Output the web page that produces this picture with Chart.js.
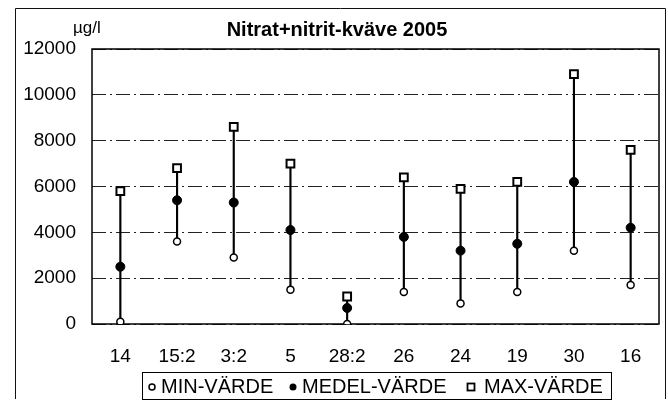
<!DOCTYPE html>
<html>
<head>
<meta charset="utf-8">
<script src="https://cdn.jsdelivr.net/npm/chart.js@4"></script>
<style>
  html, body { margin: 0; padding: 0; background: #fff; }
  #wrap { position: relative; width: 668px; height: 401px; }
</style>
</head>
<body>
<div id="wrap"><canvas id="chart" width="668" height="401"></canvas></div>
<script>
const stations = ["14", "15:2", "3:2", "5", "28:2", "26", "24", "19", "30", "16"]
const minValues = [100, 3600, 2900, 1500, 0, 1400, 900, 1400, 3200, 1700]
const meanValues = [2500, 5400, 5300, 4100, 700, 3800, 3200, 3500, 6200, 4200]
const maxValues = [5800, 6800, 8600, 7000, 1200, 6400, 5900, 6200, 10900, 7600]
const yTicks = [0, 2000, 4000, 6000, 8000, 10000, 12000]
const legendLabels = ["MIN-VÄRDE", "MEDEL-VÄRDE", "MAX-VÄRDE"]

const FONT = "'Liberation Sans', Arial, sans-serif"

// frame, title, unit and the boxed legend
const decorations = {
  id: "decorations",
  beforeDatasetsDraw(chart) {
    const { ctx, chartArea: a } = chart
    ctx.save()
    ctx.strokeStyle = "#000"
    ctx.lineWidth = 1.5
    ctx.strokeRect(a.left, a.top, a.right - a.left, a.bottom - a.top)
    ctx.restore()
  },
  afterDraw(chart) {
    const { ctx } = chart
    ctx.save()
    // outer frame
    ctx.strokeStyle = "#111"
    ctx.lineWidth = 1
    ctx.beginPath()
    ctx.moveTo(15.5, 399)
    ctx.lineTo(15.5, 8.5)
    ctx.lineTo(665.5, 8.5)
    ctx.lineTo(665.5, 399)
    ctx.stroke()
    // title
    ctx.fillStyle = "#000"
    ctx.font = "bold 20px " + FONT
    ctx.textAlign = "center"
    ctx.textBaseline = "middle"
    ctx.fillText("Nitrat+nitrit-kväve 2005", 337, 30)
    // unit
    ctx.font = "17px " + FONT
    ctx.textAlign = "left"
    ctx.fillText("µg/l", 73, 28)

    // legend
    ctx.lineWidth = 1
    ctx.strokeStyle = "#000"
    ctx.strokeRect(142.5, 372.5, 469, 27)
    ctx.font = "20px " + FONT
    ctx.textBaseline = "middle"
    const ly = 387
    // min: open circle
    ctx.lineWidth = 1.5
    ctx.beginPath()
    ctx.arc(152, ly, 3, 0, Math.PI * 2)
    ctx.fillStyle = "#fff"
    ctx.fill()
    ctx.stroke()
    ctx.fillStyle = "#000"
    ctx.fillText(legendLabels[0], 161, ly)
    // mean: filled circle
    ctx.beginPath()
    ctx.arc(293, ly, 3.5, 0, Math.PI * 2)
    ctx.fill()
    ctx.fillText(legendLabels[1], 302, ly)
    // max: open square
    ctx.lineWidth = 1.8
    ctx.strokeRect(467.5, ly - 3.5, 7, 7)
    ctx.fillText(legendLabels[2], 484, ly)
    ctx.restore()
  },
}

new Chart(document.getElementById("chart"), {
  type: "bar",
  data: {
    labels: stations,
    datasets: [
      {
        type: "line",
        label: legendLabels[0],
        data: minValues,
        showLine: false,
        pointStyle: "circle",
        pointRadius: 3.5,
        pointBackgroundColor: "#fff",
        pointBorderColor: "#000",
        pointBorderWidth: 1.5,
        order: 1,
      },
      {
        type: "line",
        label: legendLabels[1],
        data: meanValues,
        showLine: false,
        pointStyle: "circle",
        pointRadius: 4.5,
        pointBackgroundColor: "#000",
        pointBorderColor: "#000",
        pointBorderWidth: 1,
        order: 1,
      },
      {
        type: "line",
        label: legendLabels[2],
        data: maxValues,
        showLine: false,
        pointStyle: "rect",
        pointRadius: 5.5,
        pointBackgroundColor: "#fff",
        pointBorderColor: "#000",
        pointBorderWidth: 2,
        order: 1,
      },
      {
        label: "range",
        data: minValues.map((v, i) => [v, maxValues[i]]),
        backgroundColor: "#000",
        barThickness: 1.5,
        order: 5,
      },
    ],
  },
  options: {
    responsive: false,
    animation: false,
    layout: { padding: { top: 49, right: 9, bottom: 32, left: 0 } },
    scales: {
      x: {
        grid: { display: false, drawTicks: false },
        border: { display: false },
        ticks: {
          color: "#000",
          font: { family: FONT, size: 19 },
          padding: 21,
          maxRotation: 0,
        },
        afterFit: (s) => { s.height = 45 },
      },
      y: {
        min: 0,
        max: 12000,
        afterBuildTicks: (s) => { s.ticks = yTicks.map((v) => ({ value: v })) },
        grid: { color: "#222", lineWidth: 1, drawTicks: false },
        border: { display: false, dash: [14, 4, 2, 4] },
        ticks: {
          color: "#000",
          font: { family: FONT, size: 19 },
          padding: 16,
          callback: (v) => String(v),
        },
        afterFit: (s) => { s.width = 92 },
      },
    },
    plugins: {
      title: { display: false },
      tooltip: { enabled: false },
      legend: { display: false },
    },
  },
  plugins: [decorations],
})
</script>
</body>
</html>
